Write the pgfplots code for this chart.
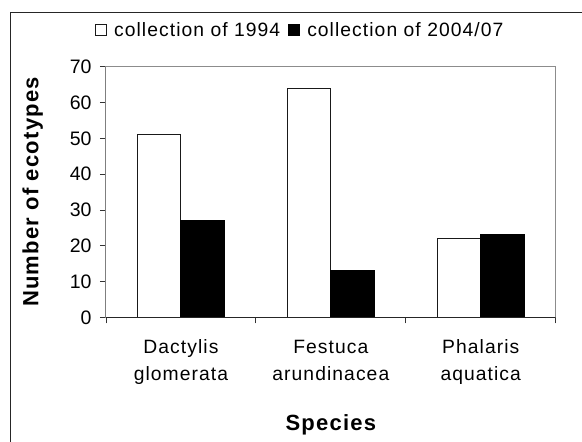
\documentclass[border=0pt]{standalone}
\usepackage{pgfplots}
\pgfplotsset{compat=1.18}
\usepackage{fontspec}
\setmainfont{Liberation Sans}[LetterSpace=5.5]
\newfontfamily\tickfont{Liberation Sans}
\begin{document}
\begin{tikzpicture}
\useasboundingbox (0pt,0pt) rectangle (582pt,-442pt);
\draw[line width=1pt,color=black!85] (10pt,-442pt) -- (10pt,-12.5pt) -- (582pt,-12.5pt);
\begin{axis}[
  at={(106pt,-317.3pt)}, anchor=south west,
  scale only axis, width=449.7pt, height=250.6pt,
  ymin=0, ymax=70, ytick={0,10,...,70},
  xmin=-0.5, xmax=2.5, xtick={0,1,2},
  xticklabels={{Dactylis\\glomerata},{Festuca\\arundinacea},{Phalaris\\aquatica}},
  minor xtick={-0.5,0.5,1.5,2.5},
  major x tick style={draw=none},
  tick align=outside, major tick length=6pt, minor tick length=6pt,
  xtick pos=lower, ytick pos=left,
  tick style={color=black!80, line width=0.8pt},
  axis line style={color=gray!90, line width=1pt},
  /pgf/number format/assume math mode=true,
  yticklabel style={font=\tickfont\fontsize{19.5}{22}\selectfont, xshift=-5pt},
  xticklabel style={font=\fontsize{19.3}{27}\selectfont, align=center, yshift=-13pt},
  xlabel={Species}, ylabel={Number of ecotypes},
  xlabel style={font=\bfseries\fontsize{22}{24}\selectfont, at={(axis description cs:0.5,-0.43)}, anchor=center},
  ylabel style={font=\bfseries\fontsize{22}{24}\selectfont, at={(axis description cs:-0.163,0.5)}, anchor=center},
  legend columns=2,
  legend style={at={(axis description cs:0.432,1.146)}, anchor=center, draw=none, fill=none,
    font=\fontsize{19.3}{22}\selectfont, inner sep=0pt,
    /tikz/every odd column/.append style={column sep=5pt},
    /tikz/every even column/.append style={column sep=6pt}},
  legend cell align=left,
  legend image code/.code={\draw[#1, line width=1pt] (0pt,-5.5pt) rectangle (11pt,5.5pt);},
]
\addplot[ybar, bar width=43.5pt, bar shift=-21.75pt, fill=white, draw=black!90, line width=1.1pt] coordinates {(0,51) (1,64) (2,22)};
\addplot[ybar, bar width=43.5pt, bar shift=21.75pt, fill=black, draw=black, line width=1.1pt] coordinates {(0,27) (1,13) (2,23)};
\legend{collection of 1994, collection of 2004/07}
\draw[black!85, line width=1pt] (rel axis cs:0,1) -- (rel axis cs:0,0) -- (rel axis cs:1,0);
\end{axis}
\end{tikzpicture}
\end{document}
